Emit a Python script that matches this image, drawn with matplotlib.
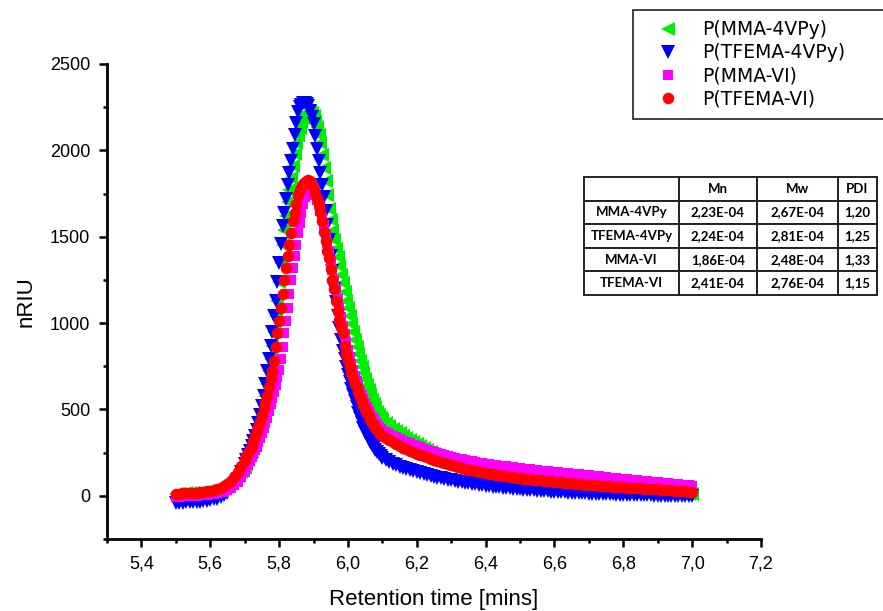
import numpy as np
import matplotlib
matplotlib.use("Agg")
import matplotlib.pyplot as plt
from matplotlib.ticker import MultipleLocator, FuncFormatter

plt.rcParams['font.family'] = ['Liberation Sans', 'DejaVu Sans']

# retention time grid [mins]: 0.01 on the foot and tail, 0.005 across the peak
t_foot = np.round(np.arange(5.50, 5.695, 0.01), 3)
t_peak = np.round(np.arange(5.700, 6.1025, 0.005), 3)
t_tail = np.round(np.arange(6.11, 7.005, 0.01), 3)
time = np.concatenate([t_foot, t_peak, t_tail])

# P(MMA-4VPy)
mma_4vpy = [
    10, 12, 13, 14, 15, 16, 17, 19, 21, 23, 26, 29, 33, 38, 46, 57, 72, 92, 115, 138,
    160, 185, 210, 235, 262, 290, 318, 345, 380, 420, 470, 520, 580, 650, 720, 790, 870, 950,
    1040, 1130, 1240, 1350, 1450, 1540, 1620, 1700, 1770, 1840, 1910, 1980, 2040, 2090, 2130,
    2165, 2190, 2205, 2215, 2220,
    2220, 2215, 2200, 2170, 2135, 2090, 2040, 1975, 1900, 1820, 1740, 1660, 1595, 1535, 1480,
    1430, 1380, 1330, 1280, 1230, 1180, 1130, 1085, 1040, 995, 950, 905, 860, 820, 780, 745,
    710, 675, 640, 610, 582, 555, 530, 507, 487, 468, 452, 437,
    420, 404, 389, 375, 361, 348, 335, 322, 310, 298,
    287, 276, 265, 255, 245, 236, 227, 218, 210, 202,
    195, 188, 181, 175, 169, 163, 157, 152, 147, 142,
    138, 134, 130, 126, 122, 118, 115, 112, 109, 106,
    103, 100, 97, 94, 91, 88, 85, 83, 80, 78,
    76, 74, 72, 70, 68, 66, 64, 62, 60, 58,
    56, 54, 52, 50, 48, 46, 44, 42, 40, 38,
    36, 34, 32, 30, 28, 27, 25, 24, 22, 21,
    20, 18, 17, 16, 15, 14, 13, 12, 11, 10,
]

# P(TFEMA-4VPy)
tfema_4vpy = [
    -40, -40, -39, -38, -37, -36, -35, -33, -31, -28, -25, -21, -16, -8, 3, 18, 38, 65, 100, 140,
    185, 210, 235, 262, 290, 318, 345, 380, 420, 470, 520, 580, 650, 720, 790, 870, 950, 1040,
    1130, 1240, 1350, 1460, 1560, 1640, 1720, 1800, 1870, 1940, 2010, 2090, 2160, 2220, 2250,
    2265, 2272, 2275, 2270, 2255, 2230, 2195, 2150, 2085, 2010, 1940, 1870, 1800, 1730, 1650,
    1570, 1480, 1390, 1300, 1200, 1120, 1040, 970, 900, 840, 790, 745, 700, 660, 620, 585,
    550, 515, 480, 450, 420, 395, 370, 350, 330, 312, 295, 280, 265, 252, 240, 230, 220,
    207, 195, 185, 176, 168, 161, 155, 149, 143, 138,
    132, 126, 121, 116, 111, 106, 101, 97, 93, 89,
    85, 81, 78, 75, 72, 69, 66, 63, 60, 58,
    56, 54, 52, 50, 48, 46, 44, 42, 40, 38,
    36, 35, 33, 32, 30, 29, 27, 26, 24, 23,
    22, 21, 20, 19, 18, 17, 16, 15, 14, 13,
    12, 11, 10, 10, 9, 8, 8, 7, 6, 6,
    5, 5, 4, 4, 3, 3, 2, 2, 1, 1,
    1, 0, 0, 0, 0, -1, -1, -1, -1, -1,
]

# P(MMA-VI)
mma_vi = [
    -5, -4, -3, -2, -1, 0, 1, 3, 5, 7, 10, 13, 16, 20, 25, 33, 45, 60, 82, 110,
    140, 160, 180, 200, 225, 245, 265, 285, 310, 335, 365, 395, 420, 450, 490, 530, 565, 600,
    640, 690, 730, 790, 860, 940, 1010, 1090, 1170, 1250, 1320, 1390, 1450, 1520, 1580, 1640,
    1690, 1730, 1755, 1770, 1775, 1772, 1760, 1740, 1715, 1685, 1650, 1610, 1565, 1515, 1465,
    1415, 1360, 1305, 1250, 1195, 1140, 1085, 1035, 985, 935, 890, 845, 805, 765, 730, 695,
    665, 635, 608, 582, 558, 535, 514, 494, 476, 459, 443, 428, 414, 401, 389, 378,
    368, 358, 348, 338, 329, 320, 311, 303, 295, 288,
    281, 274, 267, 261, 255, 249, 243, 237, 231, 226,
    221, 216, 211, 207, 203, 199, 195, 192, 189, 186,
    183, 180, 177, 175, 172, 170, 167, 165, 162, 160,
    158, 155, 153, 151, 149, 146, 144, 142, 140, 138,
    136, 134, 132, 130, 128, 126, 124, 122, 120, 118,
    116, 114, 112, 110, 108, 106, 104, 102, 100, 98,
    96, 94, 92, 90, 88, 86, 84, 82, 80, 78,
    76, 74, 72, 71, 69, 67, 65, 63, 61, 59,
]

# P(TFEMA-VI)
tfema_vi = [
    12, 13, 14, 15, 16, 17, 19, 21, 23, 26, 29, 33, 38, 45, 55, 68, 86, 110, 140, 175,
    210, 230, 250, 265, 290, 315, 345, 375, 400, 425, 470, 510, 545, 580, 630, 680, 720, 780,
    860, 940, 1010, 1090, 1170, 1250, 1320, 1390, 1450, 1520, 1590, 1640, 1690, 1740, 1770,
    1790, 1808, 1818, 1825, 1827, 1822, 1800, 1775, 1750, 1725, 1690, 1645, 1590, 1530, 1475,
    1420, 1375, 1315, 1250, 1195, 1130, 1070, 1020, 980, 940, 870, 820, 780, 745, 712, 680,
    650, 628, 600, 575, 548, 525, 500, 480, 460, 440, 422, 408, 393, 380, 368, 355, 345,
    333, 321, 309, 298, 288, 278, 269, 260, 252, 244,
    236, 229, 222, 215, 208, 201, 195, 189, 183, 177,
    172, 167, 162, 157, 152, 148, 144, 140, 136, 132,
    129, 126, 123, 120, 117, 114, 111, 108, 105, 102,
    100, 98, 96, 94, 92, 90, 88, 86, 84, 82,
    80, 78, 76, 74, 72, 71, 69, 67, 65, 64,
    62, 61, 59, 58, 56, 55, 54, 52, 51, 50,
    48, 47, 46, 45, 43, 42, 41, 40, 39, 38,
    36, 35, 33, 32, 30, 29, 27, 26, 24, 22,
]

series_names = ['P(MMA-4VPy)', 'P(TFEMA-4VPy)', 'P(MMA-VI)', 'P(TFEMA-VI)']

# molecular weight table
table_cols = ['', 'Mn', 'Mw', 'PDI']
table_rows = [
    ['MMA-4VPy', '2,23E-04', '2,67E-04', '1,20'],
    ['TFEMA-4VPy', '2,24E-04', '2,81E-04', '1,25'],
    ['MMA-VI', '1,86E-04', '2,48E-04', '1,33'],
    ['TFEMA-VI', '2,41E-04', '2,76E-04', '1,15'],
]

fig = plt.figure(figsize=(8.83, 6.11), dpi=100)
ax = fig.add_axes([0.1212, 0.1178, 0.7406, 0.7775])

styles = [
    dict(marker='<', color='#00ee00', markersize=9.5),
    dict(marker='v', color='#0000ff', markersize=9.5),
    dict(marker='s', color='#ff00ff', markersize=7.0),
    dict(marker='o', color='#ff0000', markersize=8.3),
]
handles = []
for yv, name, st in zip([mma_4vpy, tfema_4vpy, mma_vi, tfema_vi], series_names, styles):
    h, = ax.plot(time, yv, linestyle='none', marker=st['marker'], color=st['color'],
                 markersize=st['markersize'], markeredgewidth=0, label=name)
    handles.append(h)

ax.set_xlim(5.3, 7.2)
ax.set_ylim(-250, 2500)
ax.xaxis.set_major_locator(MultipleLocator(0.2))
ax.xaxis.set_minor_locator(MultipleLocator(0.1))
ax.yaxis.set_major_locator(MultipleLocator(500))
ax.yaxis.set_minor_locator(MultipleLocator(250))
ax.xaxis.set_major_formatter(FuncFormatter(lambda v, p: f"{v:.1f}".replace('.', ',')))
ax.yaxis.set_major_formatter(FuncFormatter(lambda v, p: f"{v:.0f}"))

for s in ['top', 'right']:
    ax.spines[s].set_visible(False)
for s in ['left', 'bottom']:
    ax.spines[s].set_linewidth(2.0)
ax.tick_params(which='major', direction='out', length=6, width=1.8, labelsize=13, pad=6)
ax.tick_params(which='minor', direction='out', length=3, width=1.8)

ax.set_xlabel('Retention time [mins]', fontsize=16, labelpad=12)
ax.set_ylabel('nRIU', fontsize=16, labelpad=10)

leg = fig.legend(handles=handles, loc='upper left', mode='expand',
                 bbox_to_anchor=(633 / 883, 1 - 129 / 611, 252 / 883, 119 / 611),
                 frameon=True, fancybox=False, handletextpad=0.5,
                 borderpad=0.55, labelspacing=0.22, handlelength=2.63, markerscale=1.0,
                 borderaxespad=0, prop={'family': ['DejaVu Sans'], 'size': 13.5})
leg.get_frame().set_edgecolor('black')
leg.get_frame().set_linewidth(1.3)

tab = fig.add_axes([584 / 883, 1 - 295 / 611, 293 / 883, 118 / 611])
tab.axis('off')
tbl = tab.table(cellText=table_rows, colLabels=table_cols, cellLoc='center',
                colWidths=[0.324, 0.266, 0.276, 0.134], bbox=[0, 0, 1, 1])
tbl.auto_set_font_size(False)
for (r, c), cell in tbl.get_celld().items():
    cell.set_linewidth(1.4)
    cell.set_edgecolor('#222222')
    cell.get_text().set_fontsize(9.5)
    cell.get_text().set_fontweight('bold')
    cell.get_text().set_fontfamily(['Lato', 'DejaVu Sans'])

fig.savefig('out.png', dpi=100)
